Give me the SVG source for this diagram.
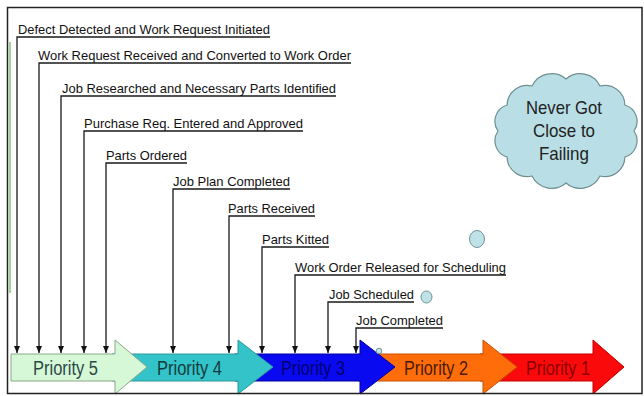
<svg xmlns="http://www.w3.org/2000/svg" width="644" height="396" viewBox="0 0 644 396">
<style>
.lbl{font-family:"Liberation Sans",Arial,sans-serif;font-size:13px;fill:#111}
.conn{fill:none;stroke:#1a1a1a;stroke-width:1.3;marker-end:url(#ah)}
.pr{font-family:"Liberation Sans",Arial,sans-serif;font-size:20px;text-anchor:middle}
.cl{font-family:"Liberation Sans",Arial,sans-serif;font-size:19px;text-anchor:middle;fill:#222}
.arr{stroke-width:1}
.bub{fill:#bfe2e8;stroke:#6f9494;stroke-width:1}
</style>
<defs>
<marker id="ah" markerWidth="8" markerHeight="8" refX="7" refY="3" orient="auto" markerUnits="userSpaceOnUse"><path d="M0,0 L7,3 L0,6 z" fill="#111"/></marker>
</defs>
<rect x="0" y="0" width="644" height="396" fill="#fff"/>
<line x1="10" y1="42" x2="10" y2="293" stroke="#7cc47c" stroke-width="1.5"/>

<g id="priority1"><polygon class="arr" points="480,354 593,354 593,340 624,367 593,394 593,381 480,381" fill="#fa0a0a" stroke="#c00000"/><text class="pr" x="558" y="375" textLength="64" lengthAdjust="spacingAndGlyphs" fill="#8a0000">Priority 1</text></g>
<g id="priority2"><polygon class="arr" points="358,354 483,354 483,340 517,367 483,394 483,381 358,381" fill="#ff6d0a" stroke="#c85000"/><text class="pr" x="436" y="375" textLength="64" lengthAdjust="spacingAndGlyphs" fill="#4a1a00">Priority 2</text></g>
<g id="priority3"><polygon class="arr" points="235,354 360,354 360,340 395,367 360,394 360,381 235,381" fill="#0a0af0" stroke="#0000a0"/><text class="pr" x="313" y="375" textLength="64" lengthAdjust="spacingAndGlyphs" fill="#000070">Priority 3</text></g>
<g id="priority4"><polygon class="arr" points="112,354 238,354 238,340 273,367 238,394 238,381 112,381" fill="#33c3c8" stroke="#2a9a9a"/><text class="pr" x="189.5" y="375" textLength="65" lengthAdjust="spacingAndGlyphs" fill="#123c3c">Priority 4</text></g>
<g id="priority5"><polygon class="arr" points="11,354 115,354 115,340 147,367 115,394 115,381 11,381" fill="#d6f8d6" stroke="#8aa88a"/><text class="pr" x="65.5" y="375" textLength="65" lengthAdjust="spacingAndGlyphs" fill="#2a4848">Priority 5</text></g>

<g id="connectors">
<path class="conn" d="M270,37 H17 V353"/>
<path class="conn" d="M351,63 H39 V353"/>
<path class="conn" d="M336,96 H61 V353"/>
<path class="conn" d="M303,131 H84 V353"/>
<path class="conn" d="M187,163 H106 V353"/>
<path class="conn" d="M290,189 H173 V353"/>
<path class="conn" d="M315,216 H229 V353"/>
<path class="conn" d="M329,247 H262 V353"/>
<path class="conn" d="M506,275 H295 V353"/>
<path class="conn" d="M414,302 H328 V353"/>
<path class="conn" d="M443,328 H356 V353"/>
</g>

<g id="l1"><text class="lbl" x="18" y="34" textLength="252" lengthAdjust="spacingAndGlyphs">Defect Detected and Work Request Initiated</text></g>
<g id="l2"><text class="lbl" x="38" y="60" textLength="313" lengthAdjust="spacingAndGlyphs">Work Request Received and Converted to Work Order</text></g>
<g id="l3"><text class="lbl" x="62" y="93" textLength="274" lengthAdjust="spacingAndGlyphs">Job Researched and Necessary Parts Identified</text></g>
<g id="l4"><text class="lbl" x="84" y="128" textLength="219" lengthAdjust="spacingAndGlyphs">Purchase Req. Entered and Approved</text></g>
<g id="l5"><text class="lbl" x="106" y="160" textLength="81" lengthAdjust="spacingAndGlyphs">Parts Ordered</text></g>
<g id="l6"><text class="lbl" x="173" y="186" textLength="117" lengthAdjust="spacingAndGlyphs">Job Plan Completed</text></g>
<g id="l7"><text class="lbl" x="228" y="213" textLength="87" lengthAdjust="spacingAndGlyphs">Parts Received</text></g>
<g id="l8"><text class="lbl" x="262" y="244" textLength="67" lengthAdjust="spacingAndGlyphs">Parts Kitted</text></g>
<g id="l9"><text class="lbl" x="295" y="272" textLength="211" lengthAdjust="spacingAndGlyphs">Work Order Released for Scheduling</text></g>
<g id="l10"><text class="lbl" x="329" y="299" textLength="85" lengthAdjust="spacingAndGlyphs">Job Scheduled</text></g>
<g id="l11"><text class="lbl" x="356" y="325" textLength="87" lengthAdjust="spacingAndGlyphs">Job Completed</text></g>

<g id="cloud">
<path d="M634,131 A17,17 0 0 1 624.9,157 A20,20 0 0 1 600,176 A22,22 0 0 1 566,183 A22,22 0 0 1 532,176 A20,20 0 0 1 507.1,157 A17,17 0 0 1 498,131 A17,17 0 0 1 507.1,105 A20,20 0 0 1 532,86 A22,22 0 0 1 566,79 A22,22 0 0 1 600,86 A20,20 0 0 1 624.9,105 A17,17 0 0 1 634,131 Z" fill="#b9dee5" stroke="#6f9090" stroke-width="1.2"/>
<text class="cl" x="564" y="114" textLength="76" lengthAdjust="spacingAndGlyphs">Never Got</text>
<text class="cl" x="564" y="137" textLength="62" lengthAdjust="spacingAndGlyphs">Close to</text>
<text class="cl" x="564" y="160" textLength="50" lengthAdjust="spacingAndGlyphs">Failing</text>
</g>
<g id="bubble1"><ellipse class="bub" cx="477" cy="239" rx="7.5" ry="8.5"/></g>
<g id="bubble2"><ellipse class="bub" cx="426.5" cy="297" rx="5.5" ry="6"/></g>
<g id="bubble3"><circle class="bub" cx="379" cy="351" r="2.8"/></g>

<rect x="7.5" y="7.5" width="634.5" height="386" fill="none" stroke="#222" stroke-width="1.5"/>
</svg>
